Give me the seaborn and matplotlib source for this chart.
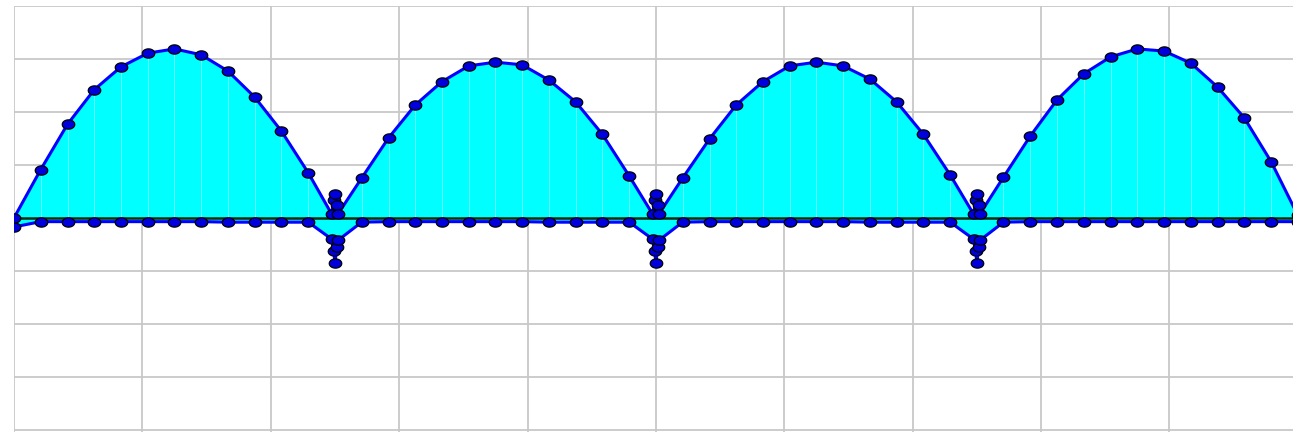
import numpy as np
import pandas as pd
import matplotlib
matplotlib.use("Agg")
import matplotlib.pyplot as plt
from matplotlib.path import Path
import seaborn as sns

# tempo (ms) - 12 amostras por meio ciclo, com varias amostras perto dos vales
t_ms = [0.0,
        0.83, 1.67, 2.50, 3.33, 4.17, 5.00, 5.83, 6.67, 7.50, 8.33, 9.17,
        9.90, 9.96, 10.00, 10.06, 10.10,
        10.83, 11.67, 12.50, 13.33, 14.17, 15.00, 15.83, 16.67, 17.50, 18.33, 19.17,
        19.90, 19.96, 20.00, 20.06, 20.10,
        20.83, 21.67, 22.50, 23.33, 24.17, 25.00, 25.83, 26.67, 27.50, 28.33, 29.17,
        29.90, 29.96, 30.00, 30.06, 30.10,
        30.83, 31.67, 32.50, 33.33, 34.17, 35.00, 35.83, 36.67, 37.50, 38.33, 39.17,
        40.00]

# tensao retificada (curva de cima)
v_out = [0.0,
         0.91, 1.77, 2.42, 2.85, 3.11, 3.19, 3.08, 2.77, 2.28, 1.64, 0.85,
         0.07, 0.33, 0.45, 0.24, 0.08,
         0.75, 1.51, 2.13, 2.57, 2.87, 2.94, 2.89, 2.60, 2.19, 1.58, 0.79,
         0.07, 0.33, 0.45, 0.24, 0.08,
         0.75, 1.49, 2.13, 2.57, 2.87, 2.94, 2.87, 2.62, 2.19, 1.58, 0.81,
         0.07, 0.33, 0.45, 0.24, 0.08,
         0.77, 1.55, 2.23, 2.72, 3.04, 3.19, 3.15, 2.92, 2.47, 1.89, 1.06,
         0.05]

# curva de baixo (quase zero, com quedas nos vales)
v_low = [-0.17,
         -0.07, -0.07, -0.07, -0.07, -0.07, -0.07, -0.07, -0.08, -0.08, -0.08, -0.08,
         -0.40, -0.62, -0.85, -0.55, -0.42,
         -0.08, -0.07, -0.07, -0.07, -0.07, -0.07, -0.07, -0.08, -0.08, -0.08, -0.08,
         -0.40, -0.62, -0.85, -0.55, -0.42,
         -0.08, -0.07, -0.07, -0.07, -0.07, -0.07, -0.07, -0.08, -0.08, -0.08, -0.08,
         -0.40, -0.62, -0.85, -0.55, -0.42,
         -0.08, -0.07, -0.07, -0.07, -0.07, -0.07, -0.07, -0.07, -0.07, -0.07, -0.07,
         -0.07]

df = pd.DataFrame({"t": t_ms, "out": v_out, "low": v_low})

sns.set_style("whitegrid", {"grid.color": "#c8c8c8"})

fig = plt.figure(figsize=(12.93, 4.32), dpi=100)
ax = fig.add_axes([14 / 1293, 0, 1 - 14 / 1293, 1 - 6 / 432])

# marcador eliptico
ang = np.linspace(0, 2 * np.pi, 40)
elipse = Path(np.column_stack([1.35 * np.cos(ang), np.sin(ang)]), closed=True)

# preenchimento ciano
ax.fill_between(df["t"], 0, df["out"], color="#00ffff", lw=0, zorder=1)
ax.fill_between(df["t"], 0, df["low"], color="#00ffff", lw=0, zorder=1)
# emendas claras dentro da area
ax.vlines(df["t"], 0, df["out"], color="#b0ffff", lw=0.5, alpha=0.8, zorder=1.5)

ax.axhline(0, color="#0b2a0b", lw=1.8, zorder=2)

kw = dict(marker=elipse, markersize=9, markerfacecolor="#0000dd",
          markeredgecolor="black", markeredgewidth=0.9,
          color="#0000ff", linewidth=2.2, sort=False, estimator=None, ax=ax)
sns.lineplot(data=df, x="t", y="low", zorder=3, **kw)
sns.lineplot(data=df, x="t", y="out", zorder=4, **kw)

ax.set_xlim(0, 39.85)
ax.set_ylim(-4.04, 4.0)
ax.set_xticks(np.arange(0, 40, 4))
ax.set_yticks(np.arange(-4, 5, 1))
ax.grid(True, color="#c8c8c8", lw=1.3)
ax.tick_params(length=0, labelbottom=False, labelleft=False)
ax.set_xlabel("")
ax.set_ylabel("")
for s in ax.spines.values():
    s.set_visible(False)

fig.savefig("out.png", dpi=100)
